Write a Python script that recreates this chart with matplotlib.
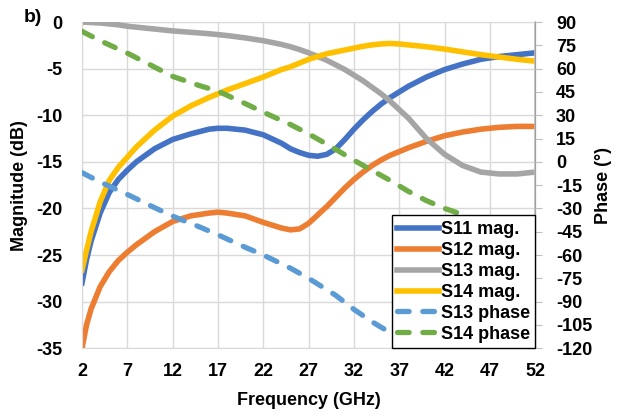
import matplotlib
matplotlib.use("Agg")
import matplotlib.pyplot as plt

plt.rcParams['font.family'] = ['Liberation Sans', 'DejaVu Sans']
plt.rcParams['font.weight'] = 'bold'
plt.rcParams['axes.unicode_minus'] = False

# frequency points (GHz) for the magnitude curves
freq = [2, 2.5, 3, 4, 5, 6, 7, 8, 10, 12, 14, 16, 17, 18, 20, 22, 24, 25, 26, 27,
        28, 29, 30, 31, 32, 33, 34, 35, 36, 37, 38, 40, 42, 44, 46, 48, 50, 52]

s11_mag = [-28.0, -25.5, -23.5, -20.5, -18.3, -16.9, -15.9, -15.0, -13.6, -12.6,
           -12.0, -11.5, -11.4, -11.4, -11.6, -12.1, -13.0, -13.6, -14.0, -14.3,
           -14.4, -14.2, -13.6, -12.6, -11.5, -10.5, -9.6, -8.8, -8.1, -7.5,
           -6.9, -5.9, -5.1, -4.5, -4.0, -3.7, -3.5, -3.3]
s12_mag = [-35.0, -32.5, -30.8, -28.4, -26.8, -25.6, -24.7, -23.9, -22.5, -21.4,
           -20.8, -20.5, -20.4, -20.5, -20.8, -21.5, -22.1, -22.3, -22.2, -21.6,
           -20.7, -19.8, -18.8, -17.8, -16.9, -16.1, -15.4, -14.8, -14.3, -13.9,
           -13.5, -12.8, -12.2, -11.8, -11.5, -11.3, -11.2, -11.2]
s13_mag = [0.0, -0.02, -0.05, -0.1, -0.2, -0.3, -0.45, -0.55, -0.75, -0.95,
           -1.1, -1.25, -1.35, -1.45, -1.7, -2.0, -2.4, -2.65, -2.95, -3.3,
           -3.7, -4.1, -4.6, -5.1, -5.7, -6.3, -7.0, -7.7, -8.5, -9.4,
           -10.3, -12.5, -14.2, -15.4, -16.1, -16.3, -16.3, -16.1]
s14_mag = [-26.6, -24.5, -22.5, -19.3, -17.0, -15.6, -14.5, -13.4, -11.6, -10.1,
           -9.0, -8.1, -7.7, -7.3, -6.6, -5.9, -5.1, -4.8, -4.4, -4.0,
           -3.7, -3.4, -3.2, -3.0, -2.8, -2.6, -2.45, -2.35, -2.3, -2.35,
           -2.45, -2.65, -2.9, -3.2, -3.5, -3.75, -4.0, -4.2]

# phase curves (degrees)
freq_s13_ph = [2, 4, 7, 10, 12, 15, 17, 20, 22, 25, 27, 30, 32, 34, 36, 38, 40]
s13_phase = [-7, -13, -21, -29.5, -35, -42, -47, -55, -60, -68.5, -75, -86,
             -95, -103, -110, -117, -123]
freq_s14_ph = [2, 4, 7, 10, 12, 15, 17, 20, 22, 25, 27, 30, 32, 34, 36, 38, 40,
               42, 44, 46, 48, 50, 52]
s14_phase = [84, 78, 70, 61, 55, 49, 45.5, 37.5, 32, 24, 18, 8, 1, -5.5, -12,
             -19, -25, -30, -34, -39, -44, -49, -54]

x_ticks = [2, 7, 12, 17, 22, 27, 32, 37, 42, 47, 52]
mag_ticks = [0, -5, -10, -15, -20, -25, -30, -35]
phase_ticks = list(range(90, -121, -15))

fig = plt.figure(figsize=(6.26, 4.16), dpi=100)
ax = fig.add_axes([0.131, 0.163, 0.724, 0.784])
ax2 = ax.twinx()

lw = 4.0
h1, = ax.plot(freq, s11_mag, color='#4472C4', lw=lw, label='S11 mag.')
h2, = ax.plot(freq, s12_mag, color='#ED7D31', lw=lw, label='S12 mag.')
h3, = ax.plot(freq, s13_mag, color='#A5A5A5', lw=lw, label='S13 mag.')
h4, = ax.plot(freq, s14_mag, color='#FFC000', lw=lw, label='S14 mag.')
h5, = ax2.plot(freq_s13_ph, s13_phase, color='#5B9BD5', lw=3.8, label='S13 phase',
               dashes=(2.2, 2.6), dash_capstyle='round')
h6, = ax2.plot(freq_s14_ph, s14_phase, color='#70AD47', lw=3.8, label='S14 phase',
               dashes=(2.2, 2.6), dash_capstyle='round')

ax.set_xlim(2, 52)
ax.set_ylim(-35, 0)
ax2.set_ylim(-120, 90)
ax.set_xticks(x_ticks)
ax.set_yticks(mag_ticks)
ax2.set_yticks(phase_ticks)

ax.grid(True, color='#D9D9D9', lw=1.0)
ax.set_axisbelow(True)
ax.spines['top'].set_visible(False)
ax2.spines['top'].set_visible(False)
for sp in ['left', 'bottom']:
    ax.spines[sp].set_color('#D9D9D9')
ax2.spines['left'].set_visible(False)
ax2.spines['bottom'].set_visible(False)
ax2.spines['right'].set_color('#BFBFBF')
ax2.spines['right'].set_linewidth(1.2)

fs = 13
ax.tick_params(axis='y', length=0, pad=14, labelsize=fs)
ax.tick_params(axis='x', length=0, pad=11, labelsize=fs)
ax2.tick_params(axis='y', length=5, color='#BFBFBF', pad=10, labelsize=fs)

ax.set_xlabel('Frequency (GHz)', fontsize=fs, fontweight='bold', labelpad=8)
ax.set_ylabel('Magnitude (dB)', fontsize=fs, fontweight='bold', labelpad=6)
ax2.set_ylabel('Phase (°)', fontsize=fs, fontweight='bold', labelpad=2)

fig.text(0.052, 0.957, 'b)', fontsize=14, fontweight='bold', ha='center', va='center')

leg = ax2.legend(handles=[h1, h2, h3, h4, h5, h6], loc='lower right',
                 bbox_to_anchor=(1.0, 0.0), fontsize=fs, frameon=True,
                 fancybox=False, framealpha=1, edgecolor='black',
                 handlelength=2.3, handletextpad=0.1, labelspacing=0.22,
                 borderpad=0.3, borderaxespad=0.0)
leg.get_frame().set_linewidth(1.0)

fig.savefig('out.png', dpi=100)
